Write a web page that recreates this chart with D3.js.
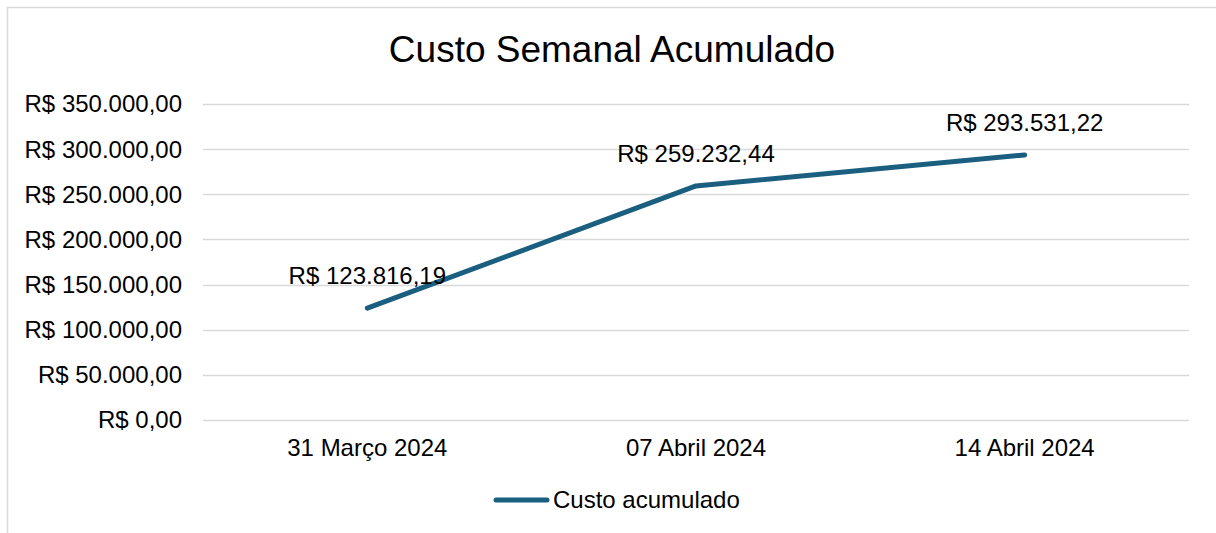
<!DOCTYPE html>
<html>
<head>
<meta charset="utf-8">
<script src="https://cdn.jsdelivr.net/npm/d3@7"></script>
<style>
  html, body { margin: 0; padding: 0; background: #fff; }
  svg { display: block; font-family: "Liberation Sans", Arial, sans-serif; }
</style>
</head>
<body>
<div id="chart"></div>
<script>
// Données du graphique
const categories = ["31 Março 2024", "07 Abril 2024", "14 Abril 2024"];
const custoAcumulado = [123816.19, 259232.44, 293531.22];
const yTicks = [0, 50000, 100000, 150000, 200000, 250000, 300000, 350000];
const titulo = "Custo Semanal Acumulado";
const nomeSerie = "Custo acumulado";

const width = 1216;
const height = 533;
const margin = { top: 104, right: 27, bottom: 113, left: 203 };
const lineColor = "#1b5f80";
const fontSize = "24px";

// Formatage monétaire brésilien
const ptBR = d3.formatLocale({ decimal: ",", thousands: ".", grouping: [3], currency: ["R$ ", ""] });
const fmt = ptBR.format("$,.2f");

const svg = d3.select("#chart")
    .append("svg")
    .attr("width", width)
    .attr("height", height);

// Cadre du graphique
svg.append("rect")
    .attr("x", 7.5)
    .attr("y", 7.5)
    .attr("width", width + 10)
    .attr("height", height + 10)
    .attr("fill", "#fff")
    .attr("stroke", "#d9d9d9")
    .attr("stroke-width", 1.5);

const x = d3.scaleBand()
    .domain(categories)
    .range([margin.left, width - margin.right]);

const y = d3.scaleLinear()
    .domain([0, 350000])
    .range([height - margin.bottom, margin.top]);

// Titre
svg.append("text")
    .attr("x", 612)
    .attr("y", 62)
    .attr("text-anchor", "middle")
    .style("font-size", "37px")
    .attr("fill", "#000")
    .text(titulo);

// Lignes de grille
svg.append("g")
    .selectAll("line")
    .data(yTicks)
    .join("line")
    .attr("x1", margin.left)
    .attr("x2", width - margin.right)
    .attr("y1", d => Math.round(y(d)) + 0.5)
    .attr("y2", d => Math.round(y(d)) + 0.5)
    .attr("stroke", "#d9d9d9")
    .attr("stroke-width", 1.5);

// Axe Y
svg.append("g")
    .selectAll("text")
    .data(yTicks)
    .join("text")
    .attr("x", 182)
    .attr("y", d => y(d))
    .attr("dy", "0.35em")
    .attr("text-anchor", "end")
    .style("font-size", fontSize)
    .attr("fill", "#000")
    .text(d => fmt(d));

// Axe X
svg.append("g")
    .selectAll("text")
    .data(categories)
    .join("text")
    .attr("x", d => x(d) + x.bandwidth() / 2)
    .attr("y", y(0) + 36)
    .attr("text-anchor", "middle")
    .style("font-size", fontSize)
    .attr("fill", "#000")
    .text(d => d);

const pontos = categories.map((c, i) => ({ cat: c, value: custoAcumulado[i] }));

const line = d3.line()
    .x(d => x(d.cat) + x.bandwidth() / 2)
    .y(d => y(d.value));

svg.append("path")
    .datum(pontos)
    .attr("d", line)
    .attr("fill", "none")
    .attr("stroke", lineColor)
    .attr("stroke-width", 5)
    .attr("stroke-linecap", "round")
    .attr("stroke-linejoin", "round");

// Étiquettes de données
svg.append("g")
    .selectAll("text")
    .data(pontos)
    .join("text")
    .attr("x", d => x(d.cat) + x.bandwidth() / 2)
    .attr("y", d => y(d.value) - 24)
    .attr("text-anchor", "middle")
    .style("font-size", fontSize)
    .attr("fill", "#000")
    .text(d => fmt(d.value));

// Légende
const legend = svg.append("g").attr("transform", "translate(496,500)");
legend.append("line")
    .attr("x1", 0)
    .attr("x2", 51)
    .attr("stroke", lineColor)
    .attr("stroke-width", 5)
    .attr("stroke-linecap", "round");
legend.append("text")
    .attr("x", 57)
    .attr("dy", "0.35em")
    .style("font-size", fontSize)
    .attr("fill", "#000")
    .text(nomeSerie);
</script>
</body>
</html>
